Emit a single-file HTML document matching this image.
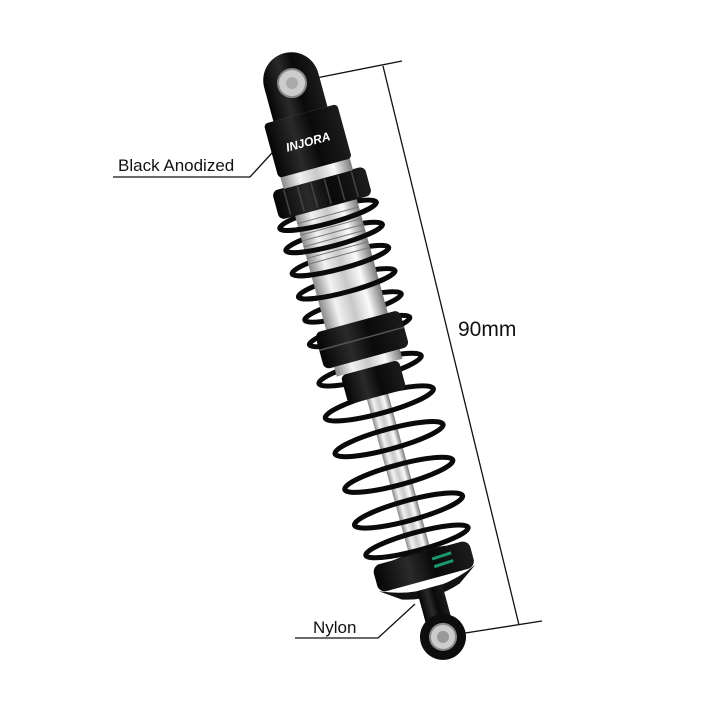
<!DOCTYPE html>
<html><head><style>
html,body{margin:0;padding:0;background:#fff;}
svg{display:block;}
</style></head><body>
<svg width="720" height="720" viewBox="0 0 720 720" xmlns="http://www.w3.org/2000/svg">
<defs>
<linearGradient id="sil" x1="0" x2="1" y1="0" y2="0">
<stop offset="0" stop-color="#8a8a8a"/><stop offset="0.25" stop-color="#f2f2f2"/><stop offset="0.5" stop-color="#c8c8c8"/><stop offset="0.75" stop-color="#fafafa"/><stop offset="1" stop-color="#7a7a7a"/>
</linearGradient>
<linearGradient id="blk" x1="0" x2="1" y1="0" y2="0">
<stop offset="0" stop-color="#050505"/><stop offset="0.35" stop-color="#2a2a2a"/><stop offset="0.6" stop-color="#0a0a0a"/><stop offset="1" stop-color="#1c1c1c"/>
</linearGradient>
</defs>
<g stroke="#111" stroke-width="1.3" fill="none">
<line x1="296" y1="82" x2="402" y2="61"/>
<line x1="383" y1="66" x2="519" y2="625"/>
<line x1="446" y1="636" x2="542" y2="621"/>
<polyline points="113,177 250,177 282,142"/>
<polyline points="295,638 378,638 415,604"/>
</g>
<text x="118" y="171" font-family="Liberation Sans, sans-serif" font-size="17" fill="#111">Black Anodized</text>
<text x="313" y="633" font-family="Liberation Sans, sans-serif" font-size="17" fill="#111">Nylon</text>
<text x="458" y="336" font-family="Liberation Sans, sans-serif" font-size="21" fill="#111">90mm</text>

<g transform="translate(367.5,360) rotate(-15.25)">
<g fill="none" stroke="#0a0a0a" stroke-width="5">
<ellipse cx="0" cy="-150" rx="50" ry="8"/>
<ellipse cx="0" cy="-127" rx="50" ry="8"/>
<ellipse cx="0" cy="-103" rx="50" ry="8"/>
<ellipse cx="0" cy="-79" rx="50" ry="8"/>
<ellipse cx="0" cy="-55" rx="50" ry="8"/>
<ellipse cx="0" cy="-30" rx="52" ry="8"/>
</g>
<rect x="-32" y="-160" width="64" height="130" fill="url(#sil)"/>
<g stroke="#777" stroke-width="1">
<line x1="-32" y1="-150" x2="32" y2="-150"/><line x1="-32" y1="-144" x2="32" y2="-144"/><line x1="-32" y1="-138" x2="32" y2="-138"/><line x1="-32" y1="-132" x2="32" y2="-132"/><line x1="-32" y1="-126" x2="32" y2="-126"/><line x1="-32" y1="-120" x2="32" y2="-120"/><line x1="-32" y1="-114" x2="32" y2="-114"/><line x1="-32" y1="-108" x2="32" y2="-108"/>
</g>
<rect x="-11" y="10" width="22" height="190" fill="url(#sil)"/>
<g fill="none" stroke="#0a0a0a" stroke-width="5">
<path d="M-50,-150 A50,8 0 0 0 50,-150"/>
<path d="M-50,-127 A50,8 0 0 0 50,-127"/>
<path d="M-50,-103 A50,8 0 0 0 50,-103"/>
<path d="M-50,-79 A50,8 0 0 0 50,-79"/>
<ellipse cx="0" cy="10" rx="53" ry="9"/>
<ellipse cx="0" cy="45" rx="56" ry="10"/>
<ellipse cx="0" cy="82" rx="56" ry="10"/>
<ellipse cx="0" cy="119" rx="56" ry="10"/>
<ellipse cx="0" cy="156" rx="56" ry="10"/>
<ellipse cx="0" cy="188" rx="53" ry="9"/>
</g>
<rect x="-44" y="-40" width="88" height="38" rx="6" fill="url(#blk)"/>
<line x1="-44" y1="-22" x2="44" y2="-22" stroke="#555" stroke-width="1.5"/>
<rect x="-34" y="-2" width="68" height="10" fill="url(#sil)"/>
<rect x="-30" y="8" width="60" height="30" rx="5" fill="url(#blk)"/>
<ellipse cx="0" cy="210" rx="50" ry="12" fill="#111"/>
<rect x="-50" y="200" width="100" height="28" rx="8" fill="url(#blk)"/>
<line x1="10" y1="209" x2="30" y2="208" stroke="#1a9a6a" stroke-width="3"/>
<line x1="10" y1="217" x2="30" y2="216" stroke="#1a9a6a" stroke-width="3"/>
<path d="M-50,226 Q0,248 50,226 L30,240 Q0,250 -30,240 Z" fill="#111"/>
<rect x="-13" y="236" width="26" height="40" fill="url(#blk)"/>
<circle cx="0" cy="287" r="23" fill="#0d0d0d"/>
<circle cx="0" cy="287" r="13" fill="#ccc" stroke="#888" stroke-width="2"/>
<circle cx="0" cy="287" r="6" fill="#999"/>
<rect x="-48" y="-188" width="96" height="30" rx="6" fill="url(#blk)"/>
<g stroke="#444" stroke-width="1.5"><line x1="-36" y1="-186" x2="-36" y2="-160"/><line x1="-22" y1="-186" x2="-22" y2="-160"/><line x1="-8" y1="-186" x2="-8" y2="-160"/><line x1="6" y1="-186" x2="6" y2="-160"/><line x1="20" y1="-186" x2="20" y2="-160"/><line x1="34" y1="-186" x2="34" y2="-160"/></g>
<rect x="-36" y="-200" width="72" height="13" fill="url(#sil)"/>
<rect x="-38" y="-255" width="76" height="56" rx="4" fill="url(#blk)"/>
<text x="0" y="-222" text-anchor="middle" font-family="Liberation Sans, sans-serif" font-weight="bold" font-style="italic" font-size="12" fill="#fff">INJORA</text>
<path d="M-28,-255 L-28,-290 A28,28 0 0 1 28,-290 L28,-255 Z" fill="url(#blk)"/>
<circle cx="0" cy="-287" r="14" fill="#ccc" stroke="#888" stroke-width="2"/>
<circle cx="0" cy="-287" r="6" fill="#aaa"/>
</g>
</svg>
</body></html>
